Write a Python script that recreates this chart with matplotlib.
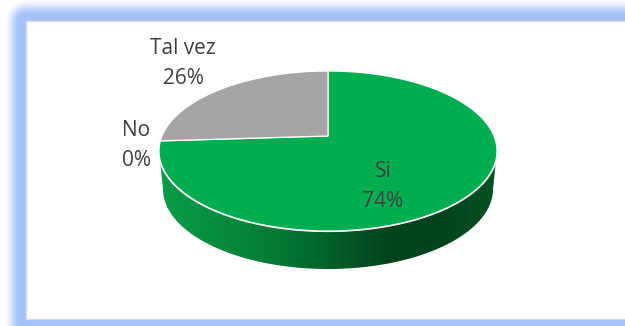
import numpy as np
import matplotlib
matplotlib.use('Agg')
import matplotlib.pyplot as plt
from matplotlib.patches import Polygon, Rectangle
from matplotlib.colors import LinearSegmentedColormap

categories = ['Si', 'No', 'Tal vez']
values = [74, 0, 26]
colors = ['#00ae50', '#e8762c', '#a5a5a5']
label_pos = [(383, 186.5), (136.5, 145), (183, 63.5)]

W, H = 625, 326
plt.rcParams['font.family'] = ['Open Sans', 'DejaVu Sans']

fig = plt.figure(figsize=(W / 100, H / 100), dpi=100)
ax = fig.add_axes([0, 0, 1, 1])
ax.set_xlim(0, W)
ax.set_ylim(H, 0)
ax.axis('off')

# blue glow around the panel, faded with the distance from its outer box
gx, gy = np.meshgrid(np.arange(W) + 0.5, np.arange(H) + 0.5)
dx = np.maximum(26 - gx, 0)
dy = np.maximum(21 - gy, 0)
dist = np.hypot(dx, dy)
fade = np.clip((22 - dist) / 16, 0, 1)
glow = np.zeros((H, W, 4))
glow[..., :3] = matplotlib.colors.to_rgb('#a4c2f8')
glow[..., 3] = fade * fade * (3 - 2 * fade)
ax.imshow(glow, extent=(0, W, H, 0), aspect='auto', zorder=1)
ax.add_patch(Rectangle((26, 21), 640, 298, fc='white', ec='#dcdcdc', lw=1, zorder=2))

# perspective projection of the pie's top face
cx = 328
k = 166
persp = 0.1875
def project(theta, r=1.0):
    u = r * np.sin(theta)
    v = r * np.cos(theta)
    d = persp * v + 1
    return cx + k * u / d, (-51.69 * v + 136) / d

# side wall with a horizontal gradient
t = np.linspace(0, 2 * np.pi, 721)
top_x = cx + 169 * np.cos(t)
top_y = 151 + 80 * np.sin(t)
front = t[t <= np.pi]
wall_top = np.column_stack([cx + 169 * np.cos(front), 151 + 80 * np.sin(front)])
low_x = cx + 165 * np.cos(front[::-1])
low_y = 189 + 80 * np.sin(front[::-1])
wall = Polygon(np.vstack([wall_top, np.column_stack([low_x, low_y])]),
               fc='none', ec='none', zorder=3)
ax.add_patch(wall)
cmap = LinearSegmentedColormap.from_list('wall', [
    (0.0, '#0a9c49'), (0.25, '#05853a'), (0.45, '#026a2e'),
    (0.68, '#02431e'), (0.85, '#02431e'), (1.0, '#035222')])
grad = np.linspace(0, 1, 340).reshape(1, -1)
im = ax.imshow(grad, extent=(159, 497, 275, 145), cmap=cmap, aspect='auto', zorder=3)
im.set_clip_path(wall)
ax.set_xlim(0, W)
ax.set_ylim(H, 0)

# white rim under the top face
ax.add_patch(Polygon(np.column_stack([top_x, top_y]), fc='none', ec='white', lw=1.6, zorder=4))

# top face slices, clockwise from twelve o'clock
total = sum(values)
start = 0.0
for val, col in zip(values, colors):
    if val > 0:
        th = np.linspace(start, start + 2 * np.pi * val / total, 300)
        x, y = project(th)
        pts = np.vstack([[project(0.0, 0.0)], np.column_stack([x, y])])
        ax.add_patch(Polygon(pts, fc=col, ec='white', lw=0.9, joinstyle='miter', zorder=5))
    start += 2 * np.pi * val / total

# category and percentage labels
for name, val, (lx, ly) in zip(categories, values, label_pos):
    pct = round(100 * val / total)
    ax.text(lx, ly - 15, name, ha='center', va='center', fontsize=15, color='#404040', zorder=6)
    ax.text(lx, ly + 15, '%d%%' % pct, ha='center', va='center', fontsize=15, color='#404040', zorder=6)

fig.savefig('out.png', dpi=100)
